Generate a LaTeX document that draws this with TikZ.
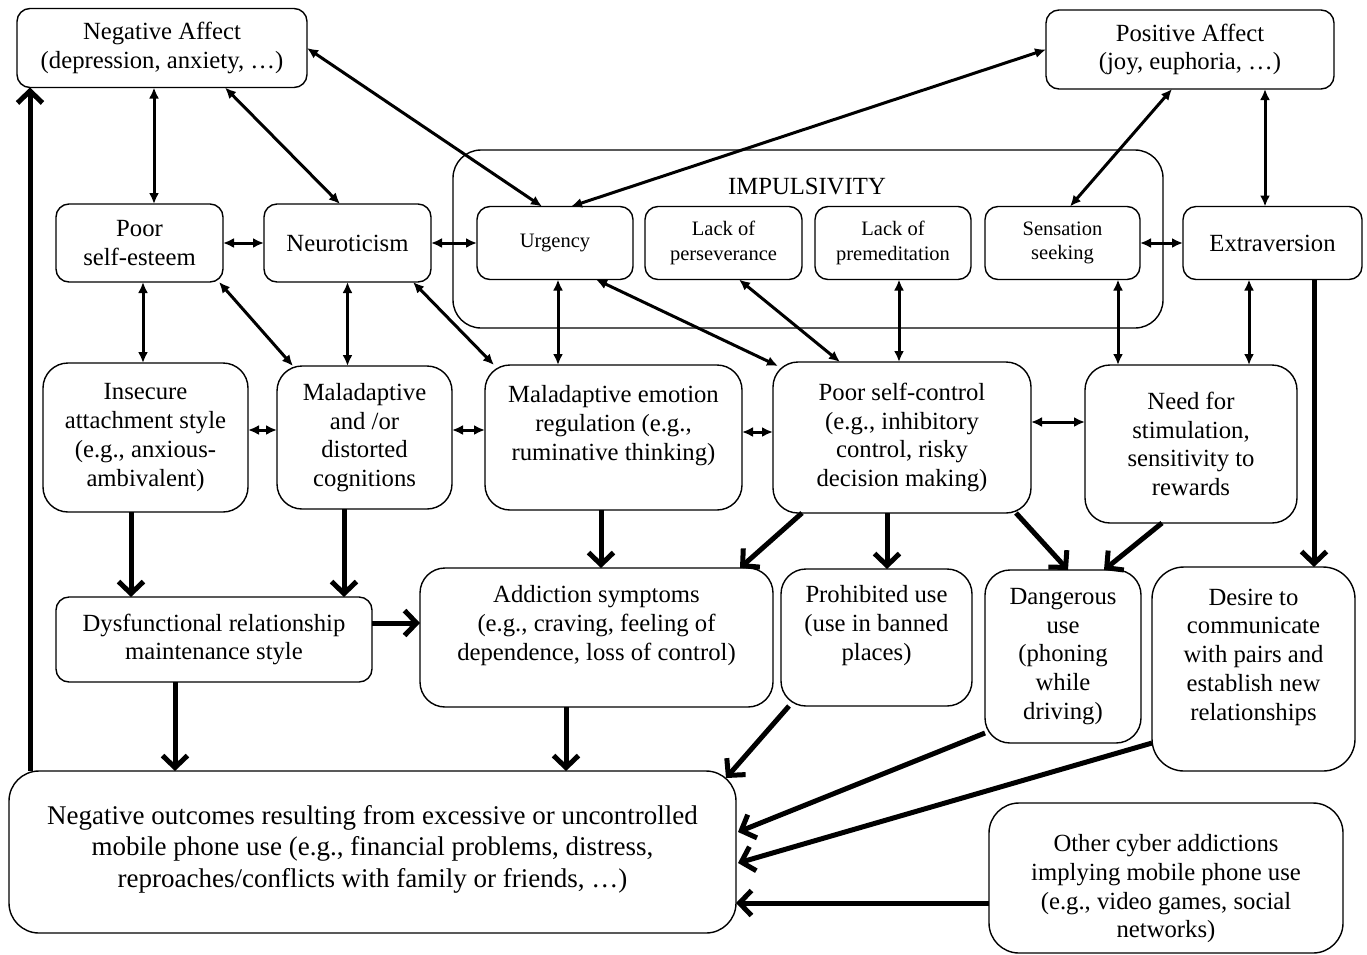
\documentclass[tikz,border=0pt]{standalone}
\usepackage{fontspec}
\setmainfont{Liberation Serif}
\usetikzlibrary{arrows.meta,positioning}

\newcommand\mainfs{\fontsize{24.7}{28.8}\selectfont}
\newcommand\smallfs{\fontsize{20.5}{24.8}\selectfont}
\newcommand\largefs{\fontsize{27}{31.5}\selectfont}

\begin{document}
\begin{tikzpicture}[x=1pt,y=-1pt,
box/.style={draw,rounded corners=13pt,line width=1.4pt,align=center,inner sep=0pt,outer sep=0pt,font=\mainfs},
rbox/.style={box,rounded corners=25pt},
sbox/.style={box,font=\smallfs},
bi/.style={{Latex[length=11pt,width=10pt]}-{Latex[length=11pt,width=10pt]},line width=3pt},
arr/.style={-{Straight Barb[length=12pt,width=25pt]},line width=5pt}]
\useasboundingbox (0,0) rectangle (1367,954);
% affect
\node[box,minimum width=290pt,minimum height=79pt](negaff) at (162,48){Negative Affect\\(depression, anxiety, …)};
\node[box,minimum width=288pt,minimum height=79pt](posaff) at (1190,49.5){Positive Affect\\(joy, euphoria, …)};
% impulsivity frame
\node[draw,rounded corners=28pt,line width=1.4pt,outer sep=0pt,minimum width=710pt,minimum height=178pt](impuls) at (808,239){};
\node[font=\mainfs](implabel) at (807,187){IMPULSIVITY};
% traits
\node[box,minimum width=167pt,minimum height=78pt](selfest) at (139.5,243){Poor\\self-esteem};
\node[box,minimum width=167pt,minimum height=78pt,right=41pt of selfest](neuro){Neuroticism};
\node[sbox,minimum width=156pt,minimum height=73pt,right=46pt of neuro](urgency){Urgency};
\node[sbox,minimum width=157pt,minimum height=73pt,right=12pt of urgency](lackpers){Lack of\\perseverance};
\node[sbox,minimum width=156pt,minimum height=73pt,right=13pt of lackpers](lackprem){Lack of\\premeditation};
\node[sbox,minimum width=155pt,minimum height=73pt,right=14pt of lackprem](sensation){Sensation\\seeking};
\node[box,minimum width=179pt,minimum height=73pt,right=43pt of sensation](extra){Extraversion};
% mechanisms
\node[rbox,minimum width=205pt,minimum height=149pt](insecure) at (145.5,437.5){Insecure\\attachment style\\(e.g., anxious-\\ambivalent)};
\node[rbox,minimum width=175pt,minimum height=143pt,right=29pt of insecure](malcog){Maladaptive\\and /or\\distorted\\cognitions};
\node[rbox,minimum width=257pt,minimum height=145pt,right=33pt of malcog](malemo){Maladaptive emotion\\regulation (e.g.,\\ruminative thinking)\\~};
\node[rbox,minimum width=258pt,minimum height=151pt,right=31pt of malemo](selfctrl){Poor self-control\\(e.g., inhibitory\\control, risky\\decision making)};
\node[rbox,minimum width=212pt,minimum height=158pt](needstim) at (1191,444){Need for\\stimulation,\\sensitivity to\\rewards};
% uses
\node[box,minimum width=316pt,minimum height=85pt](dysfunc) at (214,639.5){Dysfunctional relationship\\maintenance style};
\node[rbox,minimum width=353pt,minimum height=139pt](addict) at (596.5,637.5){Addiction symptoms\\(e.g., craving, feeling of\\dependence, loss of control)\\~};
\node[rbox,minimum width=191pt,minimum height=137pt,right=8pt of addict](prohib){Prohibited use\\(use in banned\\places)\\~};
\node[rbox,minimum width=156pt,minimum height=173pt](danger) at (1063,656.5){Dangerous\\use\\(phoning\\while\\driving)};
\node[box,rounded corners=32pt,minimum width=203pt,minimum height=204pt](desire) at (1253.5,669){Desire to\\communicate\\with pairs and\\establish new\\relationships\\~};
% outcomes
\node[box,font=\largefs,rounded corners=30pt,minimum width=727pt,minimum height=162pt](negout) at (372.5,852){Negative outcomes resulting from excessive or uncontrolled\\mobile phone use (e.g., financial problems, distress,\\reproaches/conflicts with family or friends, …)\\[-20pt]~};
\node[box,rounded corners=30pt,minimum width=354pt,minimum height=150pt](cyber) at (1166,878){~\\[10pt]Other cyber addictions\\implying mobile phone use\\(e.g., video games, social\\networks)};
% two-way links
\draw[bi]([xshift=-8pt]negaff.south)--([xshift=14.5pt]selfest.north);
\draw[bi]([xshift=63pt]negaff.south)--([xshift=-7.5pt]neuro.north);
\draw[bi](negaff.east)--([xshift=-13pt]urgency.north);
\draw[bi]([xshift=16pt]urgency.north)--(posaff.west);
\draw[bi]([xshift=-18pt]posaff.south)--([xshift=7.5pt]sensation.north);
\draw[bi]([xshift=75pt]posaff.south)--([xshift=75pt]posaff.south |- extra.north);
\draw[bi](selfest)--(neuro);\draw[bi](neuro)--(urgency);\draw[bi](sensation)--(extra);
\draw[bi]([xshift=3.5pt]selfest.south)--([xshift=3.5pt]selfest.south |- insecure.north);
\draw[bi]([xshift=-4pt]selfest.south east)--([xshift=16pt]malcog.north west);
\draw[bi](neuro.south)--(neuro.south |- malcog.north);
\draw[bi]([xshift=-18pt]neuro.south east)--([xshift=9pt]malemo.north west);
\draw[bi]([xshift=3pt]urgency.south)--([xshift=3pt]urgency.south |- malemo.north);
\draw[bi]([xshift=-37pt]urgency.south east)--([shift={(5pt,-4pt)}]selfctrl.north west);
\draw[bi]([xshift=15.5pt]lackpers.south)--([xshift=-62pt]selfctrl.north);
\draw[bi]([xshift=6pt]lackprem.south)--([xshift=6pt]lackprem.south |- selfctrl.north);
\draw[bi]([xshift=55.5pt]sensation.south)--([xshift=55.5pt]sensation.south |- needstim.north);
\draw[bi]([xshift=-23.5pt]extra.south)--([xshift=-23.5pt]extra.south |- needstim.north);
\draw[bi]([yshift=7.5pt]insecure.east)--([yshift=7.5pt]malcog.west);
\draw[bi]([yshift=7.5pt]malcog.east)--([yshift=7.5pt]malemo.west);
\draw[bi]([yshift=5.5pt]malemo.east)--([yshift=5.5pt]selfctrl.west);
\draw[bi]([yshift=15.5pt]selfctrl.east)--([yshift=22pt]needstim.west);
% one-way links
\draw[arr]([xshift=41.5pt]extra.south)--([xshift=41.5pt]extra.south |- desire.north);
\draw[arr]([xshift=-14.5pt]insecure.south)--([xshift=-14.5pt]insecure.south |- dysfunc.north);
\draw[arr]([xshift=-20.5pt]malcog.south)--([xshift=-20.5pt]malcog.south |- dysfunc.north);
\draw[arr]([xshift=-12.5pt]malemo.south)--([xshift=-12.5pt]malemo.south |- addict.north);
\draw[arr]([xshift=29pt]selfctrl.south west)--([xshift=-33pt]addict.north east);
\draw[arr]([xshift=-15pt]selfctrl.south)--([xshift=-15pt]selfctrl.south |- prohib.north);
\draw[arr]([xshift=-15pt]selfctrl.south east)--([xshift=5pt]danger.north);
\draw[arr]([xshift=-29pt]needstim.south)--([xshift=41pt]danger.north);
\draw[arr]([yshift=16.5pt]dysfunc.east)--([yshift=14.5pt]addict.west);
\draw[arr]([xshift=-39pt]dysfunc.south)--([xshift=-39pt]dysfunc.south |- negout.north);
\draw[arr]([xshift=-30.5pt]addict.south)--([xshift=-30.5pt]addict.south |- negout.north);
\draw[arr]([xshift=8pt]prohib.south west)--([shift={(-10pt,-7pt)}]negout.north east);
\draw[arr]([yshift=10pt]danger.south west)--([shift={(2pt,20pt)}]negout.east);
\draw[arr]([yshift=28pt]desire.south west)--([shift={(2pt,-11pt)}]negout.east);
\draw[arr]([yshift=-25pt]cyber.west)--([yshift=-25pt]cyber.west -| negout.east);
\draw[arr]([xshift=21pt]negout.north west)--([xshift=13pt]negaff.south west);
\end{tikzpicture}
\end{document}
